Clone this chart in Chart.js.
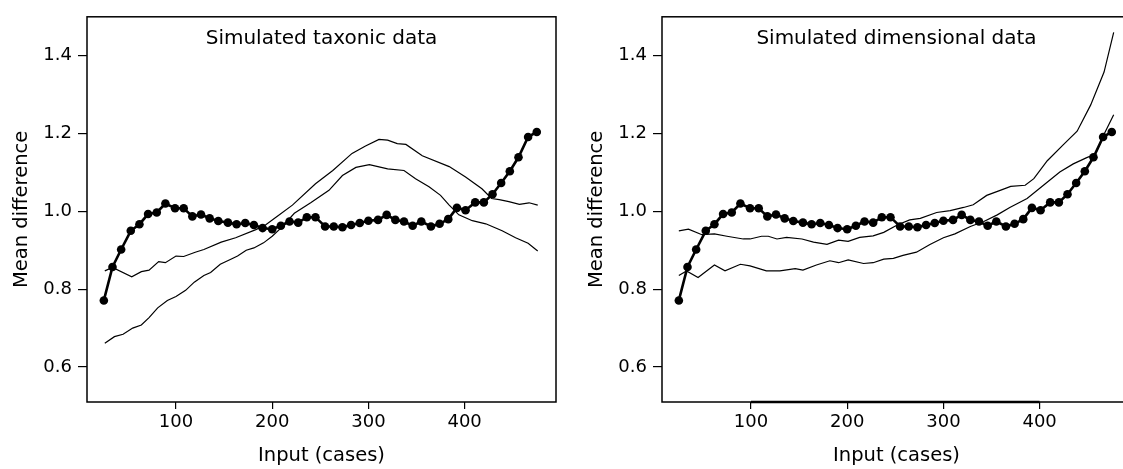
<!DOCTYPE html>
<html>
<head>
<meta charset="utf-8">
<script src="https://cdn.jsdelivr.net/npm/chart.js@4.4.0/dist/chart.umd.min.js"></script>
<style>
  html, body { margin: 0; padding: 0; background: #fff; overflow: hidden; width: 1123px; height: 469px; }
  .panel { position: absolute; top: 0; width: 575px; height: 469px; }
</style>
</head>
<body>
<div class="panel" style="left:0"><canvas id="taxonic" width="575" height="469"></canvas></div>
<div class="panel" style="left:575px"><canvas id="dimensional" width="575" height="469"></canvas></div>
<script>
// real data (thick line with dots), same in both panels
const inputCases = [25, 34, 43, 53, 62, 71, 80, 89, 99, 108, 117, 126, 135, 144, 154, 163, 172, 181, 190, 200,
  209, 218, 227, 236, 245, 255, 264, 273, 282, 291, 300, 310, 319, 328, 337, 346, 355, 365, 374, 383,
  392, 401, 411, 420, 429, 438, 447, 456, 466, 475];
const realDiff = [0.771, 0.857, 0.902, 0.950, 0.967, 0.993, 0.997, 1.020, 1.008, 1.008, 0.987, 0.992, 0.982, 0.975, 0.971, 0.967, 0.970, 0.965, 0.957, 0.954,
  0.963, 0.974, 0.971, 0.985, 0.985, 0.961, 0.961, 0.959, 0.965, 0.970, 0.976, 0.978, 0.991, 0.978, 0.974, 0.963, 0.974, 0.961, 0.968, 0.980,
  1.009, 1.003, 1.023, 1.023, 1.044, 1.073, 1.103, 1.139, 1.191, 1.204];

// simulated taxonic curves
const taxUpperX = [26, 34, 54, 64, 72, 82, 89, 100, 108, 120, 129, 147, 162, 183, 193, 205, 221, 245, 263, 283, 297, 311, 320, 330, 339, 356, 384, 401, 418, 428, 436, 446, 457, 467, 476];
const taxUpperY = [0.847, 0.856, 0.832, 0.845, 0.849, 0.871, 0.868, 0.885, 0.884, 0.895, 0.902, 0.921, 0.932, 0.953, 0.965, 0.987, 1.016, 1.071, 1.105, 1.149, 1.168, 1.185, 1.183, 1.174, 1.172, 1.143, 1.115, 1.088, 1.058, 1.033, 1.030, 1.025, 1.018, 1.022, 1.016];
const taxLowerX = [26, 36, 45, 55, 64, 72, 81, 91, 100, 110, 119, 129, 136, 146, 157, 164, 173, 181, 191, 200, 209, 223, 240, 259, 273, 287, 301, 320, 337, 349, 363, 375, 384, 394, 408, 422, 439, 453, 466, 476];
const taxLowerY = [0.661, 0.678, 0.684, 0.700, 0.708, 0.727, 0.752, 0.771, 0.781, 0.797, 0.818, 0.835, 0.843, 0.864, 0.877, 0.885, 0.900, 0.906, 0.919, 0.936, 0.957, 0.995, 1.022, 1.054, 1.092, 1.113, 1.120, 1.109, 1.105, 1.084, 1.063, 1.041, 1.016, 0.991, 0.976, 0.968, 0.950, 0.932, 0.918, 0.898];

// simulated dimensional curves
const dimUpperX = [25, 35, 49, 62, 75, 92, 99, 111, 118, 127, 137, 153, 165, 179, 191, 201, 213, 227, 238, 252, 265, 276, 293, 307, 321, 331, 345, 359, 370, 385, 394, 408, 425, 439, 453, 467, 477];
const dimUpperY = [0.950, 0.954, 0.940, 0.942, 0.936, 0.929, 0.929, 0.936, 0.936, 0.929, 0.933, 0.929, 0.921, 0.915, 0.926, 0.923, 0.933, 0.937, 0.946, 0.965, 0.978, 0.982, 0.997, 1.002, 1.010, 1.017, 1.041, 1.054, 1.064, 1.067, 1.084, 1.130, 1.172, 1.206, 1.273, 1.358, 1.460];
const dimLowerX = [25, 33, 45, 62, 73, 89, 99, 116, 130, 146, 154, 168, 182, 191, 201, 217, 227, 238, 248, 258, 272, 286, 300, 312, 328, 342, 356, 369, 387, 404, 421, 435, 449, 458, 467, 477];
const dimLowerY = [0.835, 0.847, 0.830, 0.862, 0.847, 0.864, 0.860, 0.847, 0.847, 0.853, 0.849, 0.862, 0.873, 0.868, 0.875, 0.866, 0.868, 0.877, 0.879, 0.887, 0.895, 0.915, 0.932, 0.942, 0.961, 0.974, 0.991, 1.010, 1.033, 1.067, 1.101, 1.122, 1.138, 1.147, 1.198, 1.248];

const xTicks = [100, 200, 300, 400];
const yTicks = [0.6, 0.8, 1.0, 1.2, 1.4];

const FONT = "'DejaVu Sans', sans-serif";

const pts = (xs, ys) => xs.map((x, i) => ({ x: x, y: ys[i] }));

// box + panel title drawn inside the plot area
const frame = {
  id: 'frame',
  afterDraw(chart, args, opts) {
    const { ctx, chartArea: a, scales } = chart;
    ctx.save();
    ctx.strokeStyle = '#000';
    ctx.lineWidth = 1.5;
    ctx.strokeRect(a.left, a.top, a.right - a.left, a.bottom - a.top);
    if (opts.axisLine) {
      // axis line from first to last tick, drawn over the box
      ctx.lineWidth = 2.6;
      ctx.beginPath();
      ctx.moveTo(scales.x.getPixelForValue(xTicks[0]), a.bottom);
      ctx.lineTo(scales.x.getPixelForValue(xTicks[xTicks.length - 1]), a.bottom);
      ctx.stroke();
    }
    ctx.fillStyle = '#000';
    ctx.font = '20px ' + FONT;
    ctx.textAlign = 'center';
    ctx.textBaseline = 'alphabetic';
    ctx.fillText(opts.text, (a.left + a.right) / 2, 44);
    ctx.restore();
  }
};

function makePanel(id, title, lowerX, lowerY, upperX, upperY, axisLine) {
  const thin = { borderColor: '#000', borderWidth: 1.2, pointRadius: 0, fill: false, tension: 0 };
  return new Chart(document.getElementById(id), {
    type: 'line',
    data: {
      datasets: [
        Object.assign({ data: pts(lowerX, lowerY) }, thin),
        Object.assign({ data: pts(upperX, upperY) }, thin),
        {
          data: pts(inputCases, realDiff),
          borderColor: '#000',
          borderWidth: 2.6,
          pointRadius: 4.3,
          pointBackgroundColor: '#000',
          pointBorderWidth: 0,
          fill: false,
          tension: 0
        }
      ]
    },
    plugins: [frame],
    options: {
      responsive: false,
      animation: false,
      devicePixelRatio: 1,
      layout: { padding: { left: 0, top: 11, right: 19, bottom: 0 } },
      plugins: {
        legend: { display: false },
        tooltip: { enabled: false },
        frame: { text: title, axisLine: axisLine }
      },
      scales: {
        x: {
          type: 'linear',
          min: 7.5,
          max: 495,
          afterBuildTicks: s => { s.ticks = xTicks.map(v => ({ value: v })); },
          afterFit: s => { s.height = 67; },
          grid: { drawOnChartArea: false, drawTicks: true, tickLength: 7, color: '#000', lineWidth: 1.2 },
          border: { display: false },
          ticks: { color: '#000', font: { family: FONT, size: 18 }, padding: 3, maxRotation: 0 },
          title: { display: true, text: 'Input (cases)', color: '#000', font: { family: FONT, size: 19.5 }, padding: { top: 0, bottom: 1 } }
        },
        y: {
          type: 'linear',
          min: 0.51,
          max: 1.50,
          afterBuildTicks: s => { s.ticks = yTicks.map(v => ({ value: v })); },
          afterFit: s => { s.width = 87; },
          grid: { drawOnChartArea: false, drawTicks: true, tickLength: 9, color: '#000', lineWidth: 1.2 },
          border: { display: false },
          ticks: { color: '#000', font: { family: FONT, size: 18 }, padding: 6, callback: v => v.toFixed(1) },
          title: { display: true, text: 'Mean difference', color: '#000', font: { family: FONT, size: 19.5 }, padding: { top: 10, bottom: 0 } }
        }
      }
    }
  });
}

makePanel('taxonic', 'Simulated taxonic data', taxLowerX, taxLowerY, taxUpperX, taxUpperY, false);
makePanel('dimensional', 'Simulated dimensional data', dimLowerX, dimLowerY, dimUpperX, dimUpperY, true);
</script>
</body>
</html>
